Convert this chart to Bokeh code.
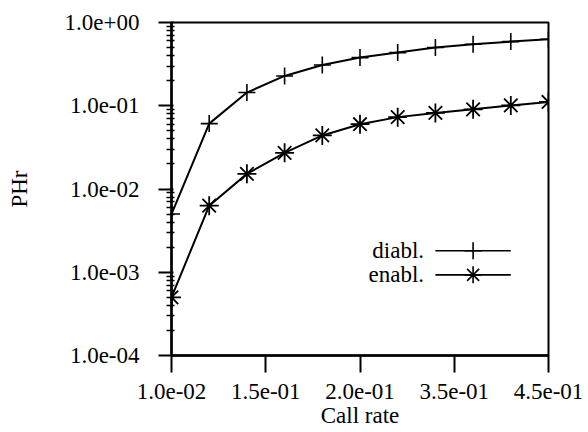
from bokeh.plotting import figure
from bokeh.models import FixedTicker, Label
from bokeh.embed import file_html
from bokeh.resources import INLINE

# data
x_pos = [0, 1, 2, 3, 4, 5, 6, 7, 8, 9, 10]
diabl = [5.0e-3, 0.061, 0.144, 0.228, 0.309, 0.379, 0.435, 0.50, 0.548, 0.59, 0.63]
enabl = [5.0e-4, 6.3e-3, 0.0152, 0.0272, 0.044, 0.060, 0.073, 0.082, 0.0905, 0.101, 0.111]
x_ticks = [0, 2.5, 5, 7.5, 10]
x_tick_labels = ["1.0e-02", "1.5e-01", "2.0e-01", "3.5e-01", "4.5e-01"]
y_ticks = [1e-4, 1e-3, 1e-2, 1e-1, 1.0]
y_tick_labels = ["1.0e-04", "1.0e-03", "1.0e-02", "1.0e-01", "1.0e+00"]
series_names = ["diabl.", "enabl."]

FONT = "'Liberation Serif', 'Times New Roman', serif"
FS = "23px"

p = figure(width=588, height=432, y_axis_type="log", x_range=(0, 10), y_range=(1e-4, 1),
           output_backend="svg", toolbar_location=None,
           min_border_left=171, min_border_right=40, min_border_top=22, min_border_bottom=77)

p.xgrid.visible = False
p.ygrid.visible = False
p.outline_line_color = "black"
p.outline_line_width = 2
p.background_fill_color = "white"
p.border_fill_color = "white"

p.line(x_pos, diabl, line_color="black", line_width=2)
p.scatter(x_pos, diabl, marker="cross", size=17, line_color="black", line_width=1.6)
p.line(x_pos, enabl, line_color="black", line_width=2)
p.scatter(x_pos, enabl, marker="asterisk", size=19, line_color="black", line_width=1.8)

# legend (label left of sample)
leg_y = [1.81e-3, 9.3e-4]
markers = ["cross", "asterisk"]
for name, yy, mk in zip(series_names, leg_y, markers):
    p.line([7.0, 9.0], [yy, yy], line_color="black", line_width=1.6)
    p.scatter([8.0], [yy], marker=mk, size=17, line_color="black", line_width=1.6)
    p.add_layout(Label(x=6.7, y=yy, text=name, text_align="right", text_baseline="middle",
                       text_font=FONT, text_font_size=FS, text_color="black"))

minor = []
for d in [1e-4, 1e-3, 1e-2, 1e-1]:
    for k in range(2, 10):
        minor.append(d * k)

xa = p.xaxis[0]
xa.ticker = FixedTicker(ticks=x_ticks)
xa.major_label_overrides = {float(t): l for t, l in zip(x_ticks, x_tick_labels)}
xa.axis_label = "Call rate"
ya = p.yaxis[0]
ya.ticker = FixedTicker(ticks=y_ticks, minor_ticks=minor)
ya.major_label_overrides = {t: l for t, l in zip(y_ticks, y_tick_labels)}
ya.axis_label = "PHr"

for ax in (xa, ya):
    ax.axis_line_width = 2.5
    ax.axis_line_color = "black"
    ax.major_tick_line_color = "black"
    ax.major_tick_line_width = 2
    ax.major_label_text_font = FONT
    ax.major_label_text_font_size = FS
    ax.major_label_text_color = "black"
    ax.axis_label_text_font = FONT
    ax.axis_label_text_font_size = FS
    ax.axis_label_text_font_style = "normal"
    ax.axis_label_text_color = "black"

xa.major_tick_out = 17
xa.major_tick_in = 0
xa.minor_tick_line_color = None
xa.major_label_standoff = 11
xa.axis_label_standoff = 1

ya.major_tick_out = 13
ya.major_tick_in = 2
ya.minor_tick_out = 5
ya.minor_tick_in = 3
ya.minor_tick_line_color = "black"
ya.minor_tick_line_width = 1.5
ya.major_label_standoff = 19
ya.axis_label_standoff = 30

open("out.html", "w").write(file_html(p, INLINE))
